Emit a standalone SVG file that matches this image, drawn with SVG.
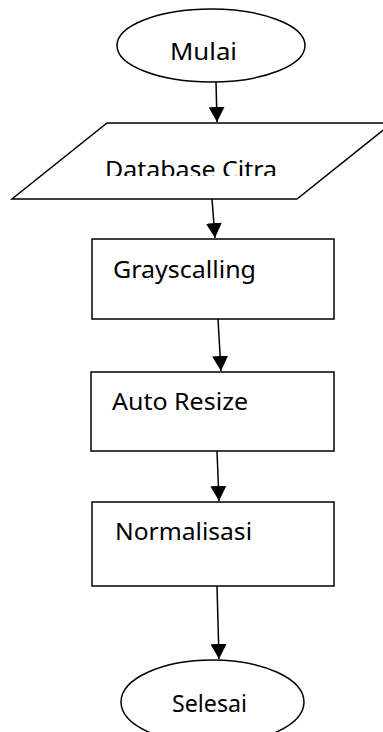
<svg xmlns="http://www.w3.org/2000/svg" width="383" height="732" viewBox="0 0 383 732">
<style>
.shape{fill:#fff;stroke:#000;stroke-width:1.5}
.conn{stroke:#000;stroke-width:1.5;fill:none}
.lbl{font-family:"Noto Sans","Open Sans","Liberation Sans",sans-serif;font-size:24px;fill:#000}
</style>
<defs>
<marker id="ah" viewBox="0 0 15 16" refX="15" refY="8" markerWidth="15" markerHeight="16" markerUnits="userSpaceOnUse" orient="auto">
<path d="M0,0 L15,8 L0,16 z" fill="#000"/>
</marker>
<clipPath id="clipDb"><rect x="0" y="130" width="383" height="46"/></clipPath>
</defs>
<rect width="383" height="732" fill="#fff"/>
<g id="mulai">
<ellipse class="shape" cx="211" cy="45.5" rx="94" ry="36.5"/>
<text class="lbl" x="170" y="60" textLength="67" lengthAdjust="spacingAndGlyphs">Mulai</text>
</g>
<g id="database-citra">
<polygon class="shape" points="107,123 392,123 297,199 12,199"/>
<text class="lbl" x="105" y="178" textLength="172" lengthAdjust="spacingAndGlyphs" clip-path="url(#clipDb)">Database Citra</text>
</g>
<g id="grayscalling">
<rect class="shape" x="92" y="239" width="242" height="80"/>
<text class="lbl" x="113" y="278" textLength="143" lengthAdjust="spacingAndGlyphs">Grayscalling</text>
</g>
<g id="auto-resize">
<rect class="shape" x="91" y="372" width="243" height="79"/>
<text class="lbl" x="112" y="410" textLength="136" lengthAdjust="spacingAndGlyphs">Auto Resize</text>
</g>
<g id="normalisasi">
<rect class="shape" x="92" y="502" width="242" height="84"/>
<text class="lbl" x="115" y="540" textLength="137" lengthAdjust="spacingAndGlyphs">Normalisasi</text>
</g>
<g id="selesai">
<ellipse class="shape" cx="212.5" cy="702" rx="91.5" ry="42"/>
<text class="lbl" x="172" y="712" textLength="75" lengthAdjust="spacingAndGlyphs">Selesai</text>
</g>
<g id="connectors">
<line class="conn" x1="216" y1="82" x2="217" y2="122" marker-end="url(#ah)"/>
<line class="conn" x1="212" y1="199" x2="215" y2="238" marker-end="url(#ah)"/>
<line class="conn" x1="218" y1="319" x2="221" y2="371" marker-end="url(#ah)"/>
<line class="conn" x1="217" y1="451" x2="219" y2="501" marker-end="url(#ah)"/>
<line class="conn" x1="217" y1="586" x2="219" y2="659" marker-end="url(#ah)"/>
</g>
</svg>
